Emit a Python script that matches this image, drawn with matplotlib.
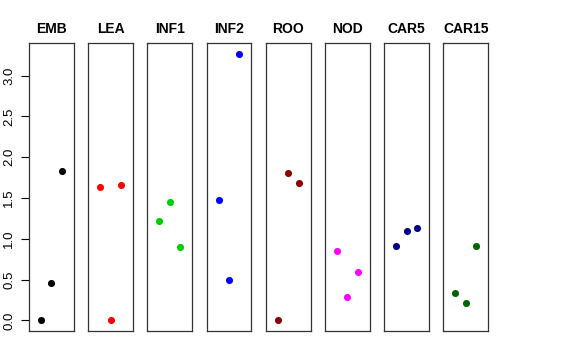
import matplotlib
matplotlib.use("Agg")
import matplotlib.pyplot as plt

plt.rcParams["font.family"] = ["Liberation Sans", "DejaVu Sans"]

groups = ["EMB", "LEA", "INF1", "INF2", "ROO", "NOD", "CAR5", "CAR15"]
colors = ["black", "#FF0000", "#00CD00", "#0000FF", "#8B0000", "#FF00FF", "#00008B", "#006400"]
values = [
    [0.0, 0.46, 1.83],
    [1.63, 0.0, 1.66],
    [1.22, 1.455, 0.90],
    [1.475, 0.496, 3.27],
    [0.0, 1.805, 1.69],
    [0.855, 0.29, 0.59],
    [0.91, 1.095, 1.135],
    [0.34, 0.214, 0.91],
]
yticks = [0.0, 0.5, 1.0, 1.5, 2.0, 2.5, 3.0]

ymax = max(max(v) for v in values)
pad = 0.04 * ymax

fig = plt.figure(figsize=(5.76, 3.6), dpi=100)
W, H = 576, 360
left0, step, pw = 29.0, 59.2, 44.8
bottom, top = 331.0, 43.0

for i, (g, c, v) in enumerate(zip(groups, colors, values)):
    x0 = left0 + i * step
    ax = fig.add_axes([x0 / W, (H - bottom) / H, pw / W, (bottom - top) / H])
    ax.scatter([1, 2, 3], v, s=26, color=c, zorder=3, linewidths=0)
    ax.set_xlim(-0.16, 4.16)
    ax.set_ylim(-pad, ymax + pad)
    ax.set_xticks([])
    for sp in ax.spines.values():
        sp.set_linewidth(0.9)
        sp.set_color("#333333")
    ax.set_title(g, fontsize=10, fontweight="bold", pad=7)
    if i == 0:
        ax.set_yticks(yticks)
        ax.set_yticklabels([f"{t:.1f}" for t in yticks], rotation=90, va="center", fontsize=9.5)
        ax.tick_params(axis="y", length=6, width=0.8, pad=4)
    else:
        ax.set_yticks([])

fig.savefig("out.png", dpi=100)
